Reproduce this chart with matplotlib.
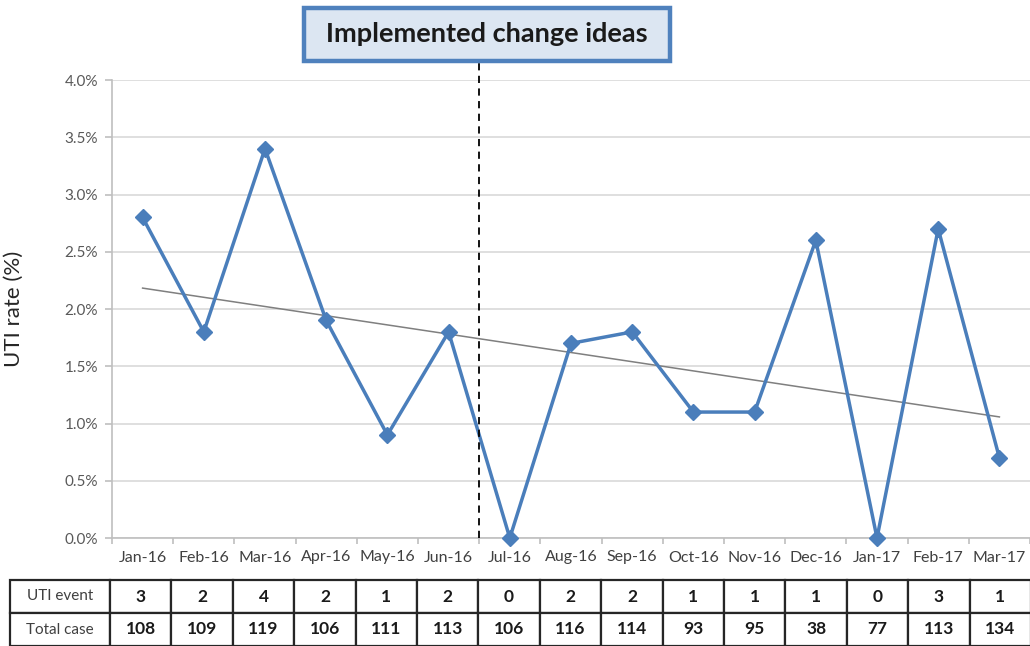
import numpy as np
import matplotlib
matplotlib.use("Agg")
import matplotlib.pyplot as plt
from matplotlib.patches import FancyBboxPatch
from matplotlib.ticker import FuncFormatter, FixedLocator

months = ["Jan-16", "Feb-16", "Mar-16", "Apr-16", "May-16", "Jun-16", "Jul-16",
          "Aug-16", "Sep-16", "Oct-16", "Nov-16", "Dec-16", "Jan-17", "Feb-17", "Mar-17"]
uti_rate = [2.8, 1.8, 3.4, 1.9, 0.9, 1.8, 0.0, 1.7, 1.8, 1.1, 1.1, 2.6, 0.0, 2.7, 0.7]
uti_event = [3, 2, 4, 2, 1, 2, 0, 2, 2, 1, 1, 1, 0, 3, 1]
total_case = [108, 109, 119, 106, 111, 113, 106, 116, 114, 93, 95, 38, 77, 113, 134]
row_labels = ["UTI event", "Total case"]
annotation = "Implemented change ideas"

plt.rcParams['font.family'] = ['Lato', 'DejaVu Sans']

W, H = 1030, 646
fig = plt.figure(figsize=(W / 100, H / 100), dpi=100)
ax_l, ax_r, ax_t, ax_b = 112, 1030, 80, 538
ax = fig.add_axes([ax_l / W, (H - ax_b) / H, (ax_r - ax_l) / W, (ax_b - ax_t) / H])

x = np.arange(len(months))
spacing = 61.4
ax.set_xlim(-0.5, -0.5 + (ax_r - ax_l) / spacing)
ax.set_ylim(0, 4.0)

blue = "#4a7ebb"
ax.plot(x, uti_rate, color=blue, lw=2.5, marker="D", ms=8.5, mfc=blue, mec=blue,
        zorder=4, clip_on=False)

# linear trend line
coef = np.polyfit(x, uti_rate, 1)
ax.plot([x[0], x[-1]], np.polyval(coef, [x[0], x[-1]]), color="#7f7f7f", lw=1.1, zorder=3)

# dashed intervention line
ax.plot([5.5, 5.5], [0, 4.0 + (ax_t - 62) / (ax_b - ax_t) * 4.0], color="black", lw=1.3,
        ls=(0, (4, 3)), clip_on=False, zorder=5)

# grid and axes styling
ax.yaxis.set_major_locator(FixedLocator(np.arange(0, 4.01, 0.5)))
ax.yaxis.set_major_formatter(FuncFormatter(lambda v, p: f"{v:.1f}%"))
ax.grid(axis="y", color="#d9d9d9", lw=1.2)
ax.set_axisbelow(True)
for s in ["top", "right"]:
    ax.spines[s].set_visible(False)
ax.spines["left"].set_color("#bfbfbf")
ax.spines["bottom"].set_color("#bfbfbf")
ax.spines["left"].set_linewidth(1.2)
ax.spines["bottom"].set_linewidth(1.2)

ax.set_xticks(x)
ax.set_xticklabels(months)
ax.set_xticks(np.arange(-0.5, len(months), 1), minor=True)
ax.tick_params(axis="x", which="major", length=0, pad=9, labelsize=11.5, labelcolor="#404040")
ax.tick_params(axis="x", which="minor", length=4, color="#bfbfbf", width=1.2)
ax.tick_params(axis="y", length=5, color="#bfbfbf", width=1.2, pad=5, labelsize=11,
               labelcolor="#595959")
ax.set_ylabel("UTI rate (%)", fontsize=16, color="#262626")
ax.yaxis.set_label_coords(-(ax_l - 24) / (ax_r - ax_l), 0.5)

# data table
ax_w = ax_r - ax_l
ax_h = ax_b - ax_t
tbl_left, tbl_right = 10, 110 + spacing * len(months)
tbl_top, tbl_bot = 580, 646
cell_text = [[str(v) for v in uti_event], [str(v) for v in total_case]]
col_w = [100] + [spacing] * len(months)
tot = sum(col_w)
table = ax.table(cellText=[[row_labels[0]] + cell_text[0], [row_labels[1]] + cell_text[1]],
                 colWidths=[c / tot for c in col_w], cellLoc="center",
                 bbox=[(tbl_left - ax_l) / ax_w, -(tbl_bot - ax_b) / ax_h,
                       (tbl_right - tbl_left) / ax_w, (tbl_bot - tbl_top) / ax_h])
table.auto_set_font_size(False)
for (r, c), cell in table.get_celld().items():
    cell.set_edgecolor("#262626")
    cell.set_linewidth(1.6)
    cell.set_facecolor("white")
    t = cell.get_text()
    if c == 0:
        t.set_fontsize(11)
        t.set_color("#404040")
    else:
        t.set_fontsize(12.5)
        t.set_color("#1a1a1a")
        t.set_fontweight("bold")
    cell.set_clip_on(False)
    t.set_clip_on(False)

# annotation box
bx0, by0, bx1, by1 = 304, 8, 670, 61
box = FancyBboxPatch((bx0 / W, 1 - by1 / H), (bx1 - bx0) / W, (by1 - by0) / H,
                     boxstyle="square,pad=0", transform=fig.transFigure,
                     facecolor="#dce6f2", edgecolor="#4f81bd", lw=3.2)
fig.patches.append(box)
fig.text((bx0 + bx1) / 2 / W, 1 - (by0 + by1) / 2 / H, annotation, ha="center", va="center",
         fontsize=19.5, fontweight="bold", color="#1a1a1a")

fig.savefig("out.png", dpi=100, facecolor="white")
